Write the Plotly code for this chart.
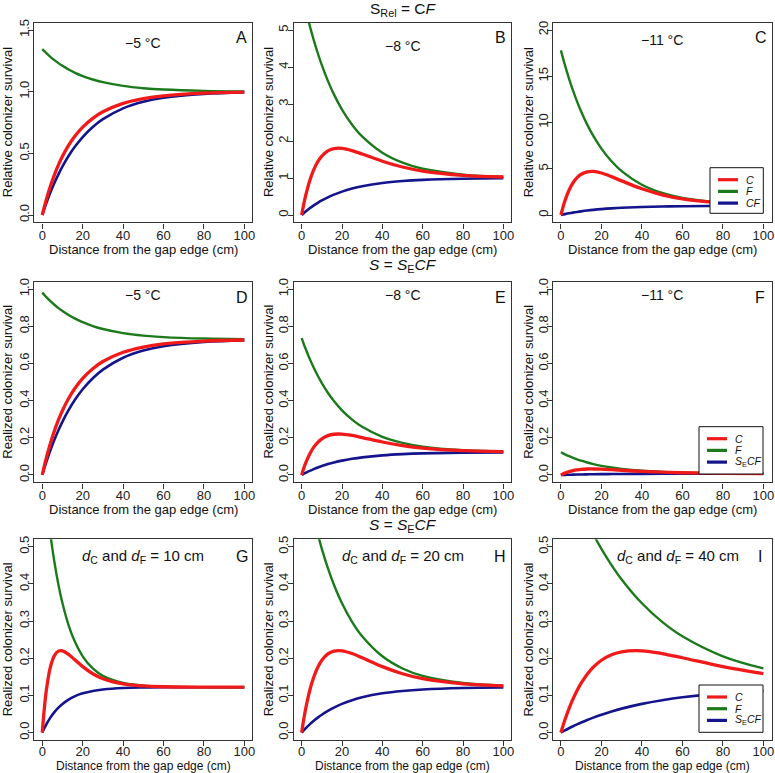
import plotly.graph_objects as go
from plotly.subplots import make_subplots

W, H = 775, 773
FONT = "Liberation Sans, Arial, sans-serif"

# distance from the gap edge (cm)
distance = [0, 1, 2, 4, 6, 8, 10, 13, 16, 20, 25, 30, 40, 50, 60, 80, 100]

# ---- Row 1: relative colonizer survival (S_Rel = CF) ----
A_C = [0, 0.0648, 0.1249, 0.2325, 0.3254, 0.4060, 0.4759, 0.5641, 0.6361, 0.7123, 0.7840, 0.8367, 0.9051, 0.9439, 0.9665, 0.9879, 0.9956]
A_F = [1.345, 1.3282, 1.3122, 1.2825, 1.2556, 1.2313, 1.2093, 1.1801, 1.1550, 1.1269, 1.0988, 1.0770, 1.0467, 1.0283, 1.0172, 1.0063, 1.0023]
A_CF = [0, 0.0488, 0.0952, 0.1813, 0.2592, 0.3297, 0.3935, 0.4780, 0.5507, 0.6321, 0.7135, 0.7769, 0.8647, 0.9179, 0.9502, 0.9817, 0.9933]

B_C = [0, 0.2823, 0.5285, 0.9279, 1.2251, 1.4413, 1.5940, 1.7332, 1.7953, 1.8017, 1.7417, 1.6488, 1.4534, 1.2969, 1.1881, 1.0721, 1.0270]
B_F = [6.03, 5.7847, 5.5513, 5.1182, 4.7263, 4.3717, 4.0508, 3.6259, 3.2601, 2.8504, 2.4411, 2.1223, 1.6808, 1.4129, 1.2504, 1.0921, 1.0339]
B_CF = [0, 0.0488, 0.0952, 0.1813, 0.2592, 0.3297, 0.3935, 0.4780, 0.5507, 0.6321, 0.7135, 0.7769, 0.8647, 0.9179, 0.9502, 0.9817, 0.9933]

C_C = [0, 0.8287, 1.5423, 2.6751, 3.4852, 4.0425, 4.4033, 4.6701, 4.7079, 4.5385, 4.1476, 3.6895, 2.8310, 2.1837, 1.7446, 1.2841, 1.1055]
C_F = [17.8, 16.981, 16.201, 14.755, 13.446, 12.261, 11.190, 9.770, 8.549, 7.180, 5.813, 4.749, 3.274, 2.379, 1.836, 1.308, 1.113]
C_CF = [0, 0.0488, 0.0952, 0.1813, 0.2592, 0.3297, 0.3935, 0.4780, 0.5507, 0.6321, 0.7135, 0.7769, 0.8647, 0.9179, 0.9502, 0.9817, 0.9933]

# ---- Row 2: realized colonizer survival (S = S_E C F) ----
D_C = [0, 0.0472, 0.0911, 0.1695, 0.2372, 0.2960, 0.3469, 0.4112, 0.4637, 0.5193, 0.5715, 0.6100, 0.6598, 0.6881, 0.7046, 0.7202, 0.7258]
D_F = [0.9805, 0.9683, 0.9566, 0.9349, 0.9153, 0.8976, 0.8816, 0.8603, 0.8420, 0.8215, 0.8010, 0.7851, 0.7630, 0.7496, 0.7415, 0.7336, 0.7307]
D_SECF = [0, 0.0356, 0.0694, 0.1322, 0.1890, 0.2404, 0.2869, 0.3485, 0.4015, 0.4608, 0.5201, 0.5664, 0.6304, 0.6691, 0.6927, 0.7157, 0.7241]

E_C = [0, 0.0344, 0.0645, 0.1132, 0.1495, 0.1758, 0.1945, 0.2115, 0.2190, 0.2198, 0.2125, 0.2012, 0.1773, 0.1582, 0.1449, 0.1308, 0.1253]
E_F = [0.7357, 0.7057, 0.6773, 0.6244, 0.5766, 0.5333, 0.4942, 0.4424, 0.3977, 0.3477, 0.2978, 0.2589, 0.2051, 0.1724, 0.1525, 0.1332, 0.1261]
E_SECF = [0, 0.0060, 0.0116, 0.0221, 0.0316, 0.0402, 0.0480, 0.0583, 0.0672, 0.0771, 0.0870, 0.0948, 0.1055, 0.1120, 0.1159, 0.1198, 0.1212]

F_C = [0, 0.0057, 0.0106, 0.0183, 0.0239, 0.0277, 0.0302, 0.0320, 0.0322, 0.0311, 0.0284, 0.0253, 0.0194, 0.0150, 0.0120, 0.0088, 0.0076]
F_F = [0.1219, 0.1163, 0.1110, 0.1011, 0.0921, 0.0840, 0.0767, 0.0669, 0.0586, 0.0492, 0.0398, 0.0325, 0.0224, 0.0163, 0.0126, 0.0090, 0.0076]
F_SECF = [0, 0.0003, 0.0007, 0.0012, 0.0018, 0.0023, 0.0027, 0.0033, 0.0038, 0.0043, 0.0049, 0.0053, 0.0059, 0.0063, 0.0065, 0.0067, 0.0068]

# ---- Row 3: realized survival for d_C = d_F = 10, 20, 40 cm ----
G_C = [0, 0.0645, 0.1132, 0.1758, 0.2070, 0.2190, 0.2198, 0.2104, 0.1962, 0.1773, 0.1582, 0.1449, 0.1308, 0.1253, 0.1232, 0.1222, 0.1220]
G_F = [0.7357, 0.6773, 0.6244, 0.5333, 0.4588, 0.3977, 0.3477, 0.2892, 0.2459, 0.2051, 0.1724, 0.1525, 0.1332, 0.1261, 0.1235, 0.1222, 0.1220]
G_SECF = [0, 0.0116, 0.0221, 0.0402, 0.0550, 0.0672, 0.0771, 0.0888, 0.0974, 0.1055, 0.1120, 0.1159, 0.1198, 0.1212, 0.1217, 0.1220, 0.1220]

H_C = [0, 0.0344, 0.0645, 0.1132, 0.1495, 0.1758, 0.1945, 0.2115, 0.2190, 0.2198, 0.2125, 0.2012, 0.1773, 0.1582, 0.1449, 0.1308, 0.1253]
H_F = [0.7357, 0.7057, 0.6773, 0.6244, 0.5766, 0.5333, 0.4942, 0.4424, 0.3977, 0.3477, 0.2978, 0.2589, 0.2051, 0.1724, 0.1525, 0.1332, 0.1261]
H_SECF = [0, 0.0060, 0.0116, 0.0221, 0.0316, 0.0402, 0.0480, 0.0583, 0.0672, 0.0771, 0.0870, 0.0948, 0.1055, 0.1120, 0.1159, 0.1198, 0.1212]

I_C = [0, 0.0178, 0.0344, 0.0645, 0.0906, 0.1132, 0.1327, 0.1569, 0.1758, 0.1945, 0.2093, 0.2173, 0.2198, 0.2125, 0.2012, 0.1773, 0.1582]
I_F = [0.7357, 0.7205, 0.7057, 0.6773, 0.6502, 0.6244, 0.5999, 0.5654, 0.5333, 0.4942, 0.4505, 0.4119, 0.3477, 0.2978, 0.2589, 0.2051, 0.1724]
I_SECF = [0, 0.0030, 0.0060, 0.0116, 0.0170, 0.0221, 0.0270, 0.0339, 0.0402, 0.0480, 0.0567, 0.0644, 0.0771, 0.0870, 0.0948, 0.1055, 0.1120]

panel_letters = ["A", "B", "C", "D", "E", "F", "G", "H", "I"]
panel_notes = ["−5 °C", "−8 °C", "−11 °C", "−5 °C", "−8 °C", "−11 °C",
               "<i>d</i><sub>C</sub> and <i>d</i><sub>F</sub> = 10 cm",
               "<i>d</i><sub>C</sub> and <i>d</i><sub>F</sub> = 20 cm",
               "<i>d</i><sub>C</sub> and <i>d</i><sub>F</sub> = 40 cm"]
row_titles = ["S<sub>Rel</sub> = C<i>F</i>", "<i>S</i> = <i>S</i><sub>E</sub><i>CF</i>", "<i>S</i> = <i>S</i><sub>E</sub><i>CF</i>"]
y_titles = ["Relative colonizer survival", "Realized colonizer survival", "Realized colonizer survival"]
x_title = "Distance from the gap edge (cm)"
x_ticks = [0, 20, 40, 60, 80, 100]
y_ticks = [[0, 0.5, 1.0, 1.5], [0, 1, 2, 3, 4, 5], [0, 5, 10, 15, 20],
           [0, 0.2, 0.4, 0.6, 0.8, 1.0], [0, 0.2, 0.4, 0.6, 0.8, 1.0], [0, 0.2, 0.4, 0.6, 0.8, 1.0],
           [0, 0.1, 0.2, 0.3, 0.4, 0.5], [0, 0.1, 0.2, 0.3, 0.4, 0.5], [0, 0.1, 0.2, 0.3, 0.4, 0.5]]
y_fmt = [".1f", "d", "d", ".1f", ".1f", ".1f", ".1f", ".1f", ".1f"]
y_ranges = [[-0.06, 1.56], [-0.2, 5.2], [-0.8, 20.8],
            [-0.04, 1.04], [-0.04, 1.04], [-0.04, 1.04],
            [-0.02, 0.52], [-0.02, 0.52], [-0.02, 0.52]]

series = [
    (A_C, A_F, A_CF), (B_C, B_F, B_CF), (C_C, C_F, C_CF),
    (D_C, D_F, D_SECF), (E_C, E_F, E_SECF), (F_C, F_F, F_SECF),
    (G_C, G_F, G_SECF), (H_C, H_F, H_SECF), (I_C, I_F, I_SECF),
]
legend_names = [["<i>C</i>", "<i>F</i>", "<i>CF</i>"],
                ["<i>C</i>", "<i>F</i>", "<i>S</i><sub>E</sub><i>CF</i>"],
                ["<i>C</i>", "<i>F</i>", "<i>S</i><sub>E</sub><i>CF</i>"]]

RED, GREEN, BLUE = "#f01a1a", "#1c7a1c", "#14148c"
COLORS = [RED, GREEN, BLUE]
AX = "#333333"

# pixel layout of the plot boxes
col_px = [(34.2, 252.4), (293.6, 511.4), (552.8, 771.5)]
row_px = [(22.6, 222.4), (281.6, 482.4), (539.2, 740.0)]
x_standoff = [-4, -4, -6]

fig = make_subplots(rows=3, cols=3)

for i, (cser, fser, bser) in enumerate(series):
    r, c = i // 3 + 1, i % 3 + 1
    names = legend_names[r - 1]
    # draw order: F, blue, then C on top
    fig.add_trace(go.Scatter(x=distance, y=fser, mode="lines", line=dict(color=GREEN, width=2.4, shape="spline"),
                             name=names[1], showlegend=False, hoverinfo="skip"), row=r, col=c)
    fig.add_trace(go.Scatter(x=distance, y=bser, mode="lines", line=dict(color=BLUE, width=2.6, shape="spline"),
                             name=names[2], showlegend=False, hoverinfo="skip"), row=r, col=c)
    fig.add_trace(go.Scatter(x=distance, y=cser, mode="lines", line=dict(color=RED, width=3.3, shape="spline"),
                             name=names[0], showlegend=False, hoverinfo="skip"), row=r, col=c)

    x0, x1 = col_px[c - 1]
    y0, y1 = row_px[r - 1]
    axis_common = dict(showline=True, linecolor=AX, linewidth=1.2, mirror=True, ticks="outside", ticklen=5,
                       tickcolor=AX, tickwidth=1, showgrid=False, zeroline=False,
                       tickfont=dict(family=FONT, size=13, color="#222"), automargin=False)
    fig.update_xaxes(domain=[x0 / W, x1 / W], range=[-4, 104], tickvals=x_ticks,
                     ticklabelstandoff=x_standoff[r - 1], row=r, col=c, **axis_common)
    fig.update_yaxes(domain=[1 - y1 / H, 1 - y0 / H], range=y_ranges[i], tickvals=y_ticks[i],
                     tickformat=y_fmt[i], tickangle=-90, ticklabelstandoff=-6, row=r, col=c, **axis_common)

annotations = []
shapes = []


def ann(text, px, py, size, angle=0, **kw):
    d = dict(text=text, x=px / W, y=1 - py / H, xref="paper", yref="paper", showarrow=False,
             xanchor="center", yanchor="middle", textangle=angle,
             font=dict(family=FONT, size=size, color="#111"))
    d.update(kw)
    annotations.append(d)


letter_pos = [(241.7, 37.5), (500, 37.5), (761, 37.5),
              (242, 297.5), (500, 297.5), (760, 297.5),
              (242, 556), (500, 556), (760, 556)]
note_pos = [(142.5, 43), (402.5, 46), (662, 40),
            (142.5, 295), (402.5, 295), (662, 295),
            (142.5, 556), (402.5, 556), (678, 556)]
for i in range(9):
    ann(panel_letters[i], *letter_pos[i], 16)
    ann(panel_notes[i], *note_pos[i], 14 if i < 6 else 15)

y_title_dx = [26.5, 25, 24]
row_title_y = [9, 266, 525]
x_title_y = [249.5, 509.5, 765.5]
x_title_size = [13, 13, 12]
for r in range(3):
    y0, y1 = row_px[r]
    ann(row_titles[r], 402.5, row_title_y[r], 15.5)
    for c in range(3):
        x0, x1 = col_px[c]
        ann(y_titles[r], x0 - y_title_dx[c], (y0 + y1) / 2, 13, angle=-90)
        ann(x_title, (x0 + x1) / 2, x_title_y[r], x_title_size[r])

# legend boxes (panels C, F, I)
legend_boxes = [(710, 167.7, 763.3, 213.3), (699, 426.7, 763, 474), (699, 685, 763, 732.3)]
for r, (lx0, ly0, lx1, ly1) in enumerate(legend_boxes):
    shapes.append(dict(type="rect", xref="paper", yref="paper", x0=lx0 / W, x1=lx1 / W,
                       y0=1 - ly1 / H, y1=1 - ly0 / H, fillcolor="white",
                       line=dict(color="#111", width=1), layer="above"))
    for k in range(3):
        yy = ly0 + 12 + 11.7 * k
        shapes.append(dict(type="line", xref="paper", yref="paper", x0=(lx0 + 8) / W, x1=(lx0 + 28) / W,
                           y0=1 - yy / H, y1=1 - yy / H, line=dict(color=COLORS[k], width=3.2), layer="above"))
        ann(legend_names[r][k], lx0 + 34, yy, 10.5, xanchor="left")

fig.update_layout(
    width=W, height=H, margin=dict(l=0, r=0, t=0, b=0),
    paper_bgcolor="white", plot_bgcolor="white", showlegend=False,
    annotations=annotations, shapes=shapes,
)

fig.write_html("out.html", config={"displayModeBar": False},
               post_script="document.body.style.margin='0';document.body.style.overflow='hidden';")
